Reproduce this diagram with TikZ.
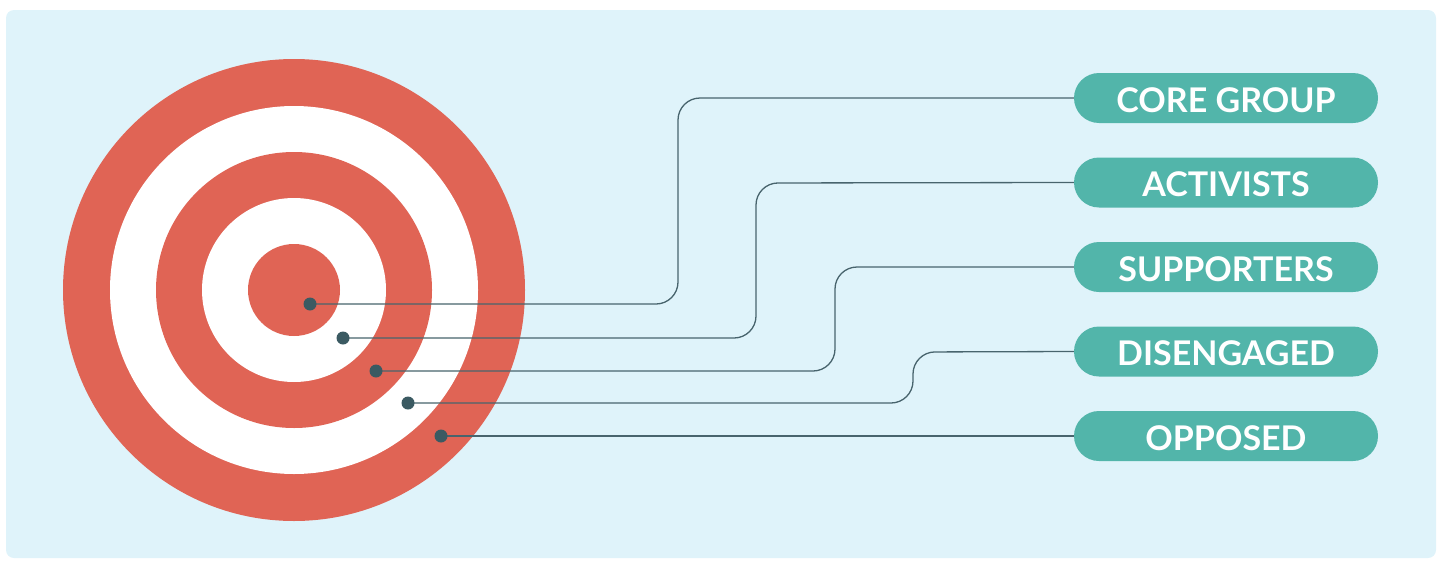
\documentclass[tikz,border=0pt]{standalone}
\usepackage{fontspec}
\setmainfont{Lato}
\usepackage{tikz}
\usetikzlibrary{positioning,calc}
\definecolor{bgblue}{HTML}{DFF3FA}
\definecolor{ringred}{HTML}{E06455}
\definecolor{pillteal}{HTML}{52B5AA}
\definecolor{linkgray}{HTML}{48646D}
\definecolor{dotslate}{HTML}{3B5A62}

\begin{document}
\begin{tikzpicture}[x=1pt, y=-1pt,
  font=\fontsize{34}{36}\selectfont\bfseries,
  pill/.style={fill=pillteal, rounded corners=25pt, minimum width=304pt, minimum height=50pt, text=white, inner sep=0pt},
  pilltext/.style={text=white, inner sep=0pt, yshift=-2pt},
  dot/.style={circle, fill=dotslate, minimum size=13pt, inner sep=0pt},
  link/.style={draw=linkgray, line width=1.3pt, rounded corners=22pt}]
  \useasboundingbox (0,0) rectangle (1442,562);
  \fill[bgblue, rounded corners=8pt] (6,10) rectangle (1436,558);
  % target rings
  \foreach \r/\c in {231/ringred,184/white,138/ringred,92/white,46/ringred}
    \fill[\c] (294,290) circle (\r pt);
  % labels
  \foreach \t [count=\i] in {CORE GROUP,ACTIVISTS,SUPPORTERS,DISENGAGED,OPPOSED}{
    \node[pill] (p\i) at (1226,{98+84.5*(\i-1)}) {};
    \node[pilltext] (t\i) at (p\i) {\t};
  }
  % markers
  \coordinate (d1) at (310,304); \coordinate (d2) at (343,338);
  \coordinate (d3) at (376,371); \coordinate (d4) at (408,403);
  \coordinate (d5) at (441,436);
  \draw[link] (d1) -| (678,98) -- (p1.west);
  \draw[link] (d2) -| (756,183) -- (p2.west);
  \draw[link] (d3) -| (835,267) -- (p3.west);
  \draw[link] (d4) -| (913,352) -- (p4.west);
  \draw[link] (d5) -- (p5.west);
  \foreach \i in {1,...,5} \node[dot] (m\i) at (d\i) {};
\end{tikzpicture}
\end{document}
